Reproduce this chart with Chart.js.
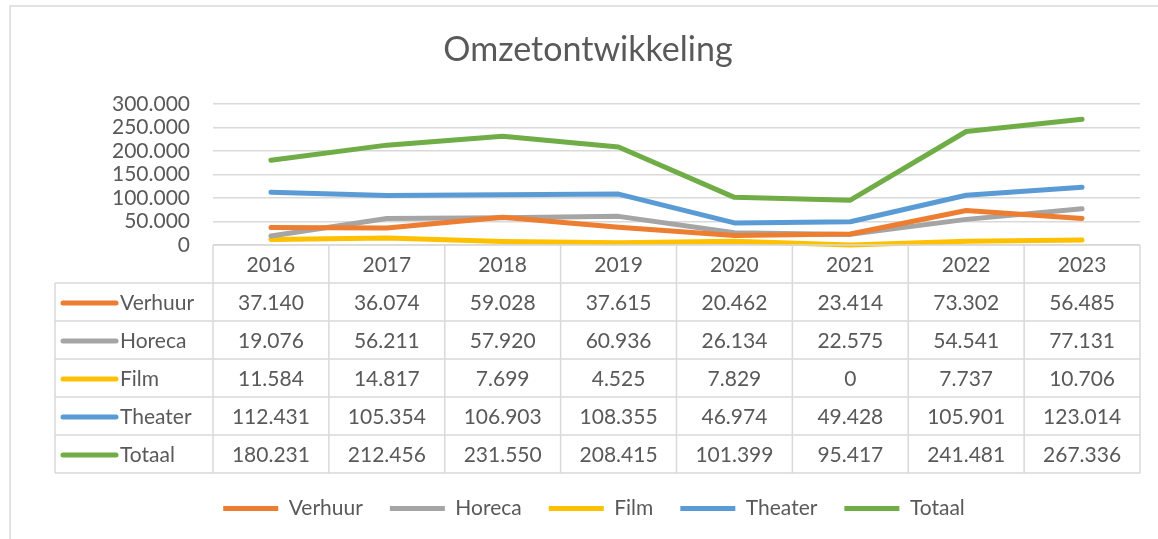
<!DOCTYPE html>
<html>
<head>
<meta charset="utf-8">
<script src="https://cdn.jsdelivr.net/npm/chart.js@4.4.0/dist/chart.umd.min.js"></script>
<style>
body{margin:0;background:#fff;}
</style>
</head>
<body>
<canvas id="line-chart" width="1158" height="539"></canvas>
<script>
// gegevens uit de grafiek
var jaren = ['2016', '2017', '2018', '2019', '2020', '2021', '2022', '2023'];
var verhuur = [37140, 36074, 59028, 37615, 20462, 23414, 73302, 56485];
var horeca = [19076, 56211, 57920, 60936, 26134, 22575, 54541, 77131];
var film = [11584, 14817, 7699, 4525, 7829, 0, 7737, 10706];
var theater = [112431, 105354, 106903, 108355, 46974, 49428, 105901, 123014];
var totaal = [180231, 212456, 231550, 208415, 101399, 95417, 241481, 267336];
var yTicks = [0, 50000, 100000, 150000, 200000, 250000, 300000];

var tekstKleur = '#595959';
var lijnKleur = '#d9d9d9';
var lettertype = 'Lato, "Open Sans", sans-serif';

function fmt(v){
	return String(v).replace(/\B(?=(\d{3})+(?!\d))/g, '.');
}

function reeks(label, data, kleur){
	return {
		label: label,
		data: data,
		borderColor: kleur,
		backgroundColor: kleur,
		borderWidth: 5,
		borderCapStyle: 'round',
		borderJoinStyle: 'round',
		pointRadius: 0,
		tension: 0,
		fill: false,
		clip: 6
	};
}

var tabelPlugin = {
	id: 'tabel',
	beforeDraw: function(chart){
		var ctx = chart.ctx;
		ctx.save();
		ctx.strokeStyle = lijnKleur;
		ctx.lineWidth = 1.5;
		ctx.beginPath();
		ctx.moveTo(10, chart.height);
		ctx.lineTo(10, 6);
		ctx.lineTo(chart.width, 6);
		ctx.stroke();
		// titel
		ctx.fillStyle = tekstKleur;
		ctx.font = '34px ' + lettertype;
		ctx.textAlign = 'center';
		ctx.textBaseline = 'alphabetic';
		ctx.fillText('Omzetontwikkeling', 588, 61);
		ctx.restore();
	},
	afterDraw: function(chart){
		var ctx = chart.ctx;
		var x = chart.scales.x;
		var area = chart.chartArea;
		var stap = x.getPixelForValue(1) - x.getPixelForValue(0);
		var boven = area.bottom;
		var kop = 38, rij = 38, links = 55;
		var sets = chart.data.datasets;
		var onder = boven + kop + rij * sets.length;

		ctx.save();
		ctx.strokeStyle = lijnKleur;
		ctx.lineWidth = 1.5;
		ctx.beginPath();
		// kopregel
		ctx.moveTo(area.left, boven);
		ctx.lineTo(area.right, boven);
		// rijlijnen
		for (var r = 0; r <= sets.length; r++) {
			var y = boven + kop + r * rij;
			ctx.moveTo(links, y);
			ctx.lineTo(area.right, y);
		}
		// kolomlijnen
		ctx.moveTo(links, boven + kop);
		ctx.lineTo(links, onder);
		for (var i = 0; i <= jaren.length; i++) {
			var xp = x.getPixelForValue(0) - stap / 2 + i * stap;
			ctx.moveTo(xp, boven);
			ctx.lineTo(xp, onder);
		}
		ctx.stroke();

		ctx.fillStyle = tekstKleur;
		ctx.font = '21px ' + lettertype;
		ctx.textBaseline = 'middle';
		ctx.textAlign = 'center';
		for (var j = 0; j < jaren.length; j++) {
			ctx.fillText(jaren[j], x.getPixelForValue(j), boven + kop / 2 + 1);
		}
		for (var s = 0; s < sets.length; s++) {
			var ym = boven + kop + s * rij + rij / 2 + 1;
			ctx.strokeStyle = sets[s].borderColor;
			ctx.lineWidth = 5;
			ctx.lineCap = 'round';
			ctx.beginPath();
			ctx.moveTo(63, ym);
			ctx.lineTo(116, ym);
			ctx.stroke();
			ctx.textAlign = 'left';
			ctx.fillText(sets[s].label, 120, ym);
			ctx.textAlign = 'center';
			for (var k = 0; k < sets[s].data.length; k++) {
				ctx.fillText(fmt(sets[s].data[k]), x.getPixelForValue(k), ym);
			}
		}
		ctx.restore();
	}
};

new Chart(document.getElementById('line-chart'), {
	type: 'line',
	data: {
		labels: jaren,
		datasets: [
			reeks('Verhuur', verhuur, '#ED7D31'),
			reeks('Horeca', horeca, '#A5A5A5'),
			reeks('Film', film, '#FFC000'),
			reeks('Theater', theater, '#5B9BD5'),
			reeks('Totaal', totaal, '#70AD47')
		]
	},
	options: {
		responsive: false,
		animation: false,
		layout: { padding: { top: 104, right: 18, bottom: 10, left: 48 } },
		plugins: {
			title: { display: false },
			tooltip: { enabled: false },
			legend: {
				position: 'bottom',
				labels: {
					usePointStyle: true,
					pointStyle: 'line',
					pointStyleWidth: 55,
					color: tekstKleur,
					padding: 27,
					font: { size: 21, family: lettertype }
				}
			}
		},
		scales: {
			x: {
				offset: true,
				grid: { display: false },
				border: { display: false },
				ticks: { display: false },
				afterFit: function(scale){ scale.height = 226; }
			},
			y: {
				min: 0,
				max: 300000,
				afterBuildTicks: function(scale){
					scale.ticks = yTicks.map(function(v){ return { value: v }; });
				},
				afterFit: function(scale){ scale.width = 165; },
				grid: { color: lijnKleur, lineWidth: 1.5, drawTicks: false },
				border: { display: false },
				ticks: {
					autoSkip: false,
					padding: 23,
					color: tekstKleur,
					font: { size: 21, family: lettertype },
					callback: function(v){ return fmt(v); }
				}
			}
		}
	},
	plugins: [tabelPlugin]
});
</script>
</body>
</html>
